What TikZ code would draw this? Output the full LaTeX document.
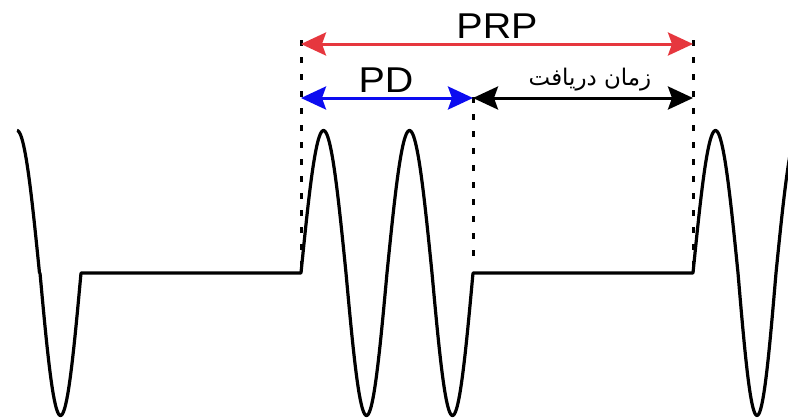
\documentclass[tikz,border=0pt]{standalone}
\usepackage{fontspec}
\setmainfont{Liberation Sans}[FakeStretch=1.1]
\newfontfamily\farsifont[Script=Arabic]{DejaVu Sans}
\TeXXeTstate=1
\usetikzlibrary{arrows.meta}
\definecolor{prpred}{RGB}{230,55,62}
\definecolor{pdblue}{RGB}{12,12,240}

\begin{document}
\begin{tikzpicture}[x=1bp, y=-1bp, >={Stealth[length=25bp,width=23bp,inset=4bp]}]
  \tikzstyle{wave}=[line width=3.2bp, line join=round]
  \tikzstyle{span}=[<->, line width=3bp]
  \tikzstyle{guide}=[line width=3bp, dash pattern=on 6bp off 11bp]
  \tikzstyle{lbl}=[inner sep=0pt, font=\fontsize{36}{36}\selectfont]
  \tikzstyle{farsi}=[inner sep=0pt, font=\farsifont\fontsize{23}{27}\selectfont]
  \useasboundingbox (0,0) rectangle (788,418);

  % pulse edges
  \coordinate (aTop) at (301,40);  \coordinate (aBot) at (301,272);
  \coordinate (bTop) at (473,97);  \coordinate (bBot) at (473,266);
  \coordinate (cTop) at (693,40);  \coordinate (cBot) at (693,272);
  \coordinate (prpL) at (301,44);  \coordinate (prpR) at (693,44);
  \coordinate (pdL) at (301,98);   \coordinate (pdR) at (473,98);
  \coordinate (rxR) at (693,98);

  \draw[guide] (aTop) -- (aBot);
  \draw[guide] (bTop) -- (bBot);
  \draw[guide] (cTop) -- (cBot);

  % transmitted signal, one lobe per plot (crest 45 wide, trough 41 wide)
  \draw[wave] plot[domain=90:180, samples=30] ({-5.5+\x/4},{273-142.5*sin(\x)})
    -- plot[domain=0:180, samples=50] ({40+\x*41/180},{273+142.5*sin(\x)})
    -- (301,273)
    -- plot[domain=0:180, samples=50] ({301+\x/4},{273-142.5*sin(\x)})
    -- plot[domain=0:180, samples=50] ({346+\x*41/180},{273+142.5*sin(\x)})
    -- plot[domain=0:180, samples=50] ({387+\x/4},{273-142.5*sin(\x)})
    -- plot[domain=0:180, samples=50] ({432+\x*41/180},{273+142.5*sin(\x)})
    -- (693,273)
    -- plot[domain=0:180, samples=50] ({693+\x/4},{273-142.5*sin(\x)})
    -- plot[domain=0:180, samples=50] ({738+\x*38/180},{273+142.5*sin(\x)})
    -- plot[domain=0:90, samples=30] ({776+\x/4},{273-142.5*sin(\x)});

  \draw[span, prpred] (prpL) -- (prpR);
  \draw[span, pdblue] (pdL) -- (pdR);
  \draw[span] (pdR) -- (rxR);

  \node[lbl] (prp) at (497,26) {PRP};
  \node[lbl] (pd) at (386,80) {PD};
  \node[farsi] (rx) at (590,80) {\beginR زمان دریافت\endR};
\end{tikzpicture}
\end{document}
